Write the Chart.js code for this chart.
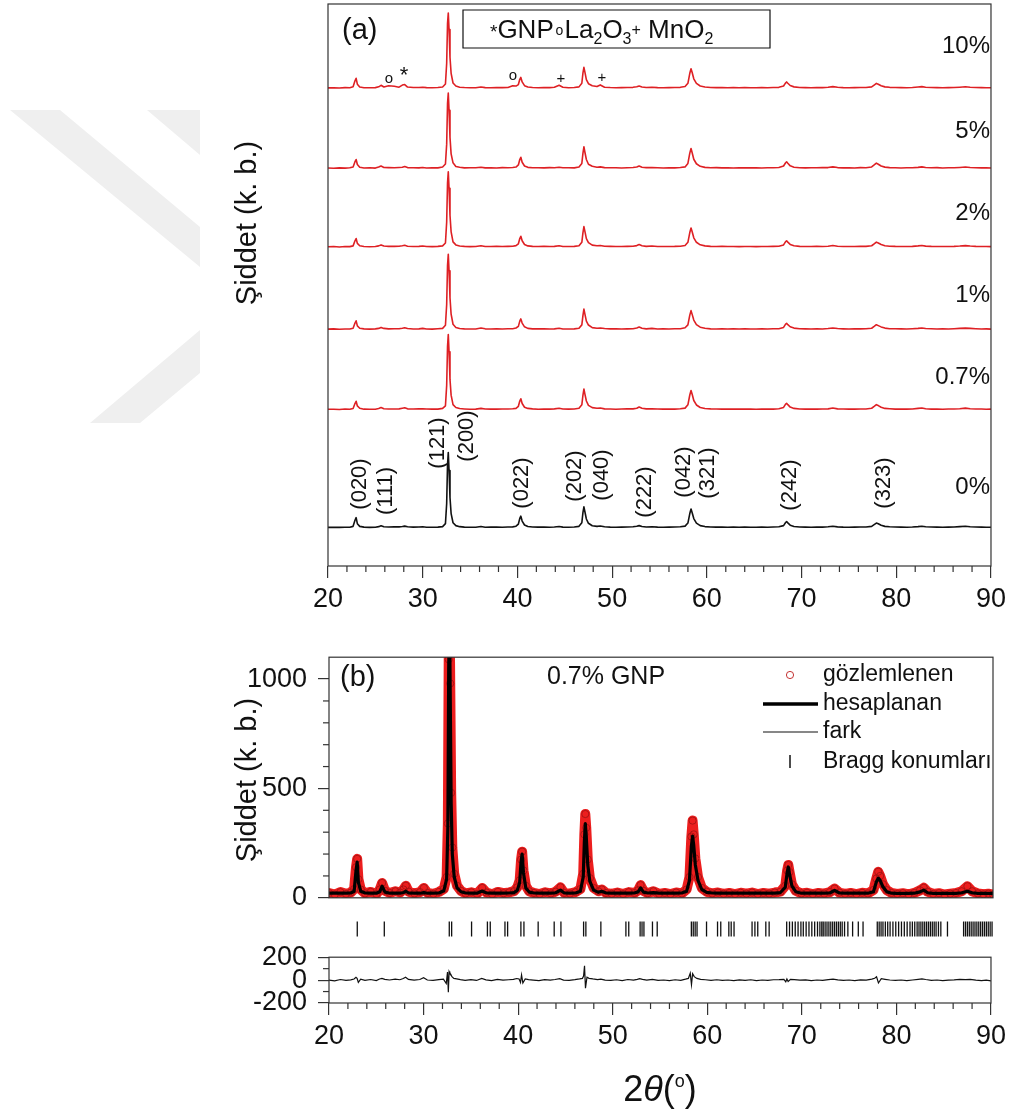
<!DOCTYPE html>
<html>
<head>
<meta charset="utf-8">
<script src="https://cdn.jsdelivr.net/npm/chart.js@4.4.1/dist/chart.umd.min.js"></script>
<style>
  html, body { margin: 0; padding: 0; background: #fff; }
  #page { position: relative; width: 1011px; height: 1114px; overflow: hidden; }
  canvas { position: absolute; left: 0; }
</style>
</head>
<body>
<div id="page">
  <canvas id="chartA" width="1011" height="620" style="top:0;width:1011px;height:620px"></canvas>
  <canvas id="chartB" width="1011" height="295" style="top:630px;width:1011px;height:295px"></canvas>
  <canvas id="chartC" width="1011" height="34" style="top:912px;width:1011px;height:34px"></canvas>
  <canvas id="chartD" width="1011" height="184" style="top:930px;width:1011px;height:184px"></canvas>
</div>
<script>
// 2theta grid shared by every pattern
const twoTheta = [
  20, 20.6, 21.2, 21.8, 22.3, 22.65, 22.85, 22.97, 23.1, 23.35, 23.8, 24.4, 25.0,
  25.35, 25.6, 25.9, 26.4, 27.0, 27.5, 27.85, 28.1, 28.4, 29.0, 29.6, 30.0,
  30.4, 31.0, 31.6, 32.1, 32.4, 32.53, 32.62, 32.7, 32.78, 32.88, 33.0, 33.2, 33.5, 33.9, 34.4, 35.0,
  35.6, 36.15, 36.6, 37.2, 37.8, 38.4, 39.0, 39.5, 39.85,
  40.1, 40.25, 40.36, 40.5, 40.75, 41.1, 41.6, 42.2, 42.8, 43.4, 43.9, 44.4, 44.8,
  45.4, 46.0, 46.5, 46.8, 46.92, 47.02, 47.12, 47.28, 47.5, 47.9, 48.4, 48.75, 49.2, 49.8,
  50.4, 51.0, 51.6, 52.2, 52.6, 52.85, 53.15, 53.6, 54.2, 54.8,
  55.4, 56.0, 56.6, 57.2, 57.7, 58.0, 58.2, 58.33, 58.45, 58.62, 58.9, 59.3, 59.8,
  60.4, 61.0, 61.6, 62.2, 62.8, 63.4, 64.0, 64.6,
  65.2, 65.8, 66.4, 67.0, 67.6, 68.1, 68.3, 68.42, 68.55, 68.8, 69.2, 69.8,
  70.4, 71.0, 71.6, 72.2, 72.8, 73.3, 73.8, 74.4,
  75.0, 75.6, 76.2, 76.8, 77.4, 77.7, 77.9, 78.1, 78.4, 78.8, 79.3, 79.9,
  80.5, 81.1, 81.7, 82.3, 82.7, 83.1, 83.7, 84.3, 84.9,
  85.5, 86.1, 86.7, 87.3, 87.8, 88.4, 89.0, 89.5, 90.0
];

// panel (a): relative intensity above baseline (main peak = 1000)
const i10 = [
  1, 3, 0, 4, 2, 15, 95, 128, 50, 13, 3, 2, 4,
  15, 35, 12, 28, 22, 10, 38, 45, 12, 5, 6, 10,
  4, 3, 5, 12, 52, 330, 860, 1000, 780, 410, 195, 66, 25, 10, 5, 3,
  3, 12, 4, 3, 5, 4, 6, 30, 25,
  45, 115, 140, 80, 30, 12, 6, 3, 5, 4, 8, 35, 8,
  3, 6, 14, 62, 200, 275, 215, 112, 56, 30, 18, 40, 10, 5,
  3, 4, 6, 8, 15, 26, 13, 6, 9, 4,
  3, 4, 5, 8, 18, 62, 195, 255, 205, 122, 60, 26, 12,
  6, 4, 5, 3, 4, 2, 4, 3,
  2, 4, 3, 5, 8, 25, 64, 80, 62, 32, 14, 6,
  4, 3, 5, 4, 8, 17, 8, 4,
  3, 4, 5, 6, 14, 42, 60, 50, 30, 14, 8, 5,
  4, 3, 6, 12, 17, 9, 5, 4, 3,
  4, 6, 10, 15, 10, 6, 4, 3, 2
];
const i5 = [
  2, -1, 3, 0, 4, 15, 85, 115, 48, 12, 2, 4, 0,
  14, 28, 9, 6, 4, 9, 12, 22, 7, 5, 3, 9,
  2, 5, 3, 14, 55, 320, 860, 1000, 770, 410, 190, 70, 22, 12, 3, 5,
  5, 12, 3, 4, 2, 6, 5, 9, 14,
  42, 115, 145, 78, 28, 10, 4, 5, 3, 6, 4, 12, 5,
  4, 3, 15, 62, 200, 285, 215, 115, 52, 24, 12, 16, 6, 4,
  5, 2, 5, 9, 14, 28, 12, 7, 9, 5,
  2, 5, 3, 9, 16, 62, 200, 262, 205, 118, 58, 24, 10,
  4, 6, 3, 5, 2, 4, 3, 5,
  3, 2, 5, 4, 9, 28, 68, 84, 64, 30, 12, 5,
  3, 5, 4, 6, 7, 16, 7, 3,
  4, 2, 6, 5, 15, 45, 66, 52, 28, 13, 6, 4,
  2, 5, 4, 10, 16, 8, 4, 6, 2,
  5, 4, 9, 14, 9, 5, 3, 4, 2
];
const i2 = [
  0, 3, -2, 4, 2, 12, 80, 110, 45, 14, 4, 0, 3,
  12, 25, 10, 5, 6, 8, 14, 20, 8, 4, 6, 10,
  4, 2, 5, 12, 50, 330, 850, 1000, 780, 420, 200, 65, 25, 10, 5, 2,
  3, 14, 4, 3, 5, 4, 6, 8, 15,
  40, 110, 140, 80, 30, 12, 6, 3, 5, 3, 6, 14, 4,
  3, 6, 14, 60, 190, 270, 210, 110, 55, 22, 14, 18, 8, 5,
  3, 4, 6, 8, 16, 30, 14, 6, 10, 4,
  3, 4, 5, 8, 18, 60, 190, 250, 200, 120, 60, 26, 12,
  6, 4, 5, 3, 4, 2, 4, 3,
  2, 4, 3, 5, 8, 25, 65, 80, 62, 32, 14, 6,
  4, 3, 5, 4, 8, 18, 8, 4,
  3, 4, 5, 6, 14, 42, 62, 50, 30, 14, 8, 5,
  4, 3, 6, 12, 18, 9, 5, 4, 3,
  4, 6, 10, 16, 10, 6, 4, 3, 2
];
const i1 = [
  1, 4, 0, 3, 3, 14, 82, 112, 44, 13, 5, 1, 4,
  11, 24, 11, 4, 7, 6, 13, 19, 9, 3, 5, 11,
  3, 1, 6, 11, 52, 330, 850, 1000, 780, 420, 200, 66, 24, 9, 4, 3,
  2, 15, 5, 2, 6, 3, 7, 7, 16,
  38, 108, 138, 82, 32, 11, 5, 4, 6, 2, 5, 13, 3,
  2, 5, 13, 58, 185, 268, 205, 108, 56, 21, 13, 17, 9, 4,
  4, 3, 5, 7, 17, 29, 13, 5, 11, 3,
  4, 3, 6, 7, 19, 58, 188, 248, 198, 122, 62, 27, 13,
  5, 3, 6, 2, 5, 3, 5, 2,
  3, 5, 2, 6, 7, 24, 64, 79, 60, 33, 15, 7,
  5, 2, 6, 3, 9, 17, 9, 5,
  2, 5, 4, 7, 13, 40, 60, 48, 31, 15, 7, 6,
  5, 2, 7, 11, 17, 10, 6, 3, 4,
  3, 7, 11, 15, 11, 7, 3, 4, 1
];
const i07 = [
  2, 2, -1, 5, 1, 13, 78, 108, 46, 15, 3, 2, 2,
  13, 26, 9, 6, 5, 7, 15, 21, 7, 5, 7, 9,
  5, 3, 4, 13, 48, 320, 840, 1000, 770, 400, 190, 64, 26, 11, 6, 1,
  4, 13, 5, 3, 4, 5, 5, 9, 14,
  41, 112, 142, 79, 29, 13, 7, 2, 4, 4, 7, 15, 5,
  4, 5, 15, 61, 192, 272, 208, 112, 54, 23, 15, 19, 7, 6,
  2, 5, 7, 7, 15, 31, 15, 7, 9, 5,
  3, 5, 4, 9, 17, 61, 192, 252, 202, 119, 59, 25, 11,
  7, 5, 4, 4, 3, 3, 3, 4,
  1, 3, 4, 4, 9, 26, 66, 81, 63, 31, 13, 5,
  3, 4, 4, 5, 7, 19, 7, 5,
  4, 3, 6, 5, 15, 43, 63, 51, 29, 13, 9, 4,
  3, 4, 5, 13, 19, 8, 4, 5, 2,
  5, 5, 9, 17, 9, 5, 5, 2, 3
];
const i0 = [
  0, 2, 1, 3, 3, 14, 95, 130, 50, 14, 4, 1, 3,
  10, 22, 9, 6, 8, 7, 12, 17, 8, 4, 6, 9,
  3, 2, 4, 11, 50, 320, 840, 1000, 760, 400, 185, 62, 24, 10, 4, 3,
  3, 12, 3, 4, 5, 3, 6, 7, 16,
  45, 120, 150, 85, 32, 12, 6, 4, 5, 3, 5, 12, 4,
  3, 5, 14, 62, 200, 275, 212, 112, 55, 22, 14, 18, 8, 4,
  3, 4, 5, 8, 15, 24, 13, 6, 9, 4,
  3, 4, 5, 8, 17, 58, 185, 245, 195, 118, 58, 24, 11,
  5, 4, 5, 3, 4, 2, 4, 3,
  2, 4, 3, 5, 8, 24, 62, 78, 60, 30, 13, 6,
  4, 3, 5, 4, 8, 15, 7, 4,
  3, 4, 5, 6, 14, 40, 58, 48, 28, 14, 8, 5,
  4, 3, 6, 11, 16, 8, 5, 4, 3,
  4, 6, 10, 15, 9, 6, 4, 3, 2
];
const sampleNames = ['10%', '5%', '2%', '1%', '0.7%', '0%'];
const stackOffsets = [6380, 5310, 4260, 3160, 2090, 515];

// panel (b): 0.7% GNP refinement, counts
const observed = [
  22, 15, 26, 18, 24, 40, 140, 178, 85, 38, 20, 27, 17,
  38, 68, 32, 22, 30, 24, 38, 55, 28, 20, 26, 45,
  22, 18, 27, 40, 95, 340, 1090, 1380, 980, 480, 230, 110, 55, 32, 20, 25,
  18, 45, 24, 16, 27, 21, 25, 30, 48,
  80, 175, 211, 125, 55, 30, 22, 17, 25, 20, 28, 48, 22,
  19, 26, 40, 110, 290, 383, 320, 175, 90, 45, 30, 38, 22, 18,
  24, 17, 26, 22, 35, 58, 32, 21, 30, 18,
  22, 17, 24, 20, 38, 95, 280, 353, 290, 180, 95, 45, 28,
  20, 24, 18, 22, 17, 23, 19, 24,
  17, 22, 19, 24, 28, 55, 125, 150, 118, 62, 32, 20,
  23, 17, 22, 19, 26, 42, 24, 18,
  22, 17, 23, 20, 36, 88, 119, 100, 62, 35, 22, 18,
  21, 16, 22, 34, 46, 28, 18, 21, 15,
  19, 22, 30, 53, 30, 20, 16, 19, 14
];
const calculated = [
  21, 21, 21, 21, 22, 30, 125, 163, 70, 30, 22, 21, 21,
  28, 53, 26, 21, 21, 21, 24, 30, 22, 21, 21, 24,
  21, 21, 22, 32, 85, 320, 1050, 1300, 920, 430, 200, 95, 45, 28, 22, 21,
  21, 31, 22, 21, 21, 21, 22, 24, 34,
  70, 165, 200, 115, 45, 26, 22, 21, 21, 21, 23, 35, 22,
  21, 22, 30, 95, 255, 339, 280, 150, 75, 35, 25, 30, 22, 21,
  21, 21, 21, 22, 28, 45, 26, 22, 24, 21,
  21, 21, 21, 22, 30, 80, 235, 282, 240, 150, 80, 38, 25,
  22, 21, 21, 21, 21, 21, 21, 21,
  21, 21, 21, 21, 24, 48, 115, 141, 108, 55, 28, 21,
  21, 21, 21, 21, 22, 34, 22, 21,
  21, 21, 21, 21, 28, 72, 90, 80, 50, 28, 21, 20,
  20, 20, 21, 27, 35, 23, 20, 20, 20,
  20, 20, 23, 30, 23, 20, 20, 20, 20
];
const difference = [
  0, -6, 5, -3, 2, 10, 25, 15, -20, 8, -2, 5, -4,
  10, 15, 6, 1, 9, 3, 14, 25, 6, -1, 5, 21,
  1, -3, 4, 8, -30, 70, -105, 75, 60, 50, 30, 15, 10, 4, -2, 4,
  -3, 14, 2, -5, 6, 0, 3, 6, 14,
  10, -20, 45, -25, 10, 4, 0, -4, 4, -1, 5, 13, 0,
  -2, 4, 10, 15, 35, 125, -70, 25, 15, 10, 5, 8, 0, -3,
  3, -4, 5, 0, 7, 13, 6, -1, 6, -3,
  1, -4, 3, -2, 8, 15, 60, -40, 55, 30, 15, 7, 3,
  -2, 3, -3, 1, -4, 2, -2, 3,
  -4, 1, -2, 3, 4, 7, -15, 10, -12, 7, 4, -1,
  2, -4, 1, -2, 4, 8, 2, -3,
  1, -4, 2, -1, 8, 16, 29, -25, 12, 7, 1, -2,
  1, -4, 1, 7, 11, 5, -2, 1, -5,
  -1, 2, 7, 5, 7, 0, -4, -1, -6
];
const braggPositions = [
  22.98, 25.83, 32.68, 32.93, 35.03, 36.7, 37.0, 38.55, 38.83, 40.23, 40.55, 42.05, 43.74, 44.45,
  46.84, 47.08, 48.66, 51.3, 51.6, 52.8, 53.0, 53.2, 54.1, 54.6, 58.2, 58.4, 58.6, 58.8, 59.8,
  60.96, 61.3, 62.15, 62.4, 62.7, 64.6, 64.9, 65.2, 66.05, 66.4,
  68.25, 68.55, 68.85, 69.15, 69.45, 69.75, 70.0, 70.3, 70.6, 70.9, 71.2, 71.5, 71.75, 71.95,
  72.1, 72.3, 72.5, 72.7, 72.9, 73.1, 73.3, 73.5, 73.7, 73.9, 74.1, 74.35, 74.7, 75.2, 75.8, 76.3,
  77.8, 78.0, 78.2, 78.4, 78.65, 78.9, 79.15, 79.45, 79.75, 80.05, 80.35, 80.65, 80.95, 81.25,
  81.5, 81.75, 82.0, 82.2, 82.4, 82.6, 82.8, 83.0, 83.2, 83.4, 83.6, 83.8, 84.0, 84.25, 84.5, 85.2,
  86.9, 87.1, 87.3, 87.5, 87.7, 87.9, 88.1, 88.3, 88.5, 88.7, 88.9, 89.1, 89.3, 89.5, 89.7, 89.9
];

const xTicks = [20, 30, 40, 50, 60, 70, 80, 90];
const xMinor = [22, 24, 26, 28, 32, 34, 36, 38, 42, 44, 46, 48, 52, 54, 56, 58, 62, 64, 66, 68, 72, 74, 76, 78, 82, 84, 86, 88];
const yTicksB = [0, 500, 1000];
const yMinorB = [100, 200, 300, 400, 600, 700, 800, 900];
const yTicksD = [-200, 0, 200];
const yMinorD = [-100, 100];

const hklLabels = [
  ['(020)', 360, 484], ['(111)', 386, 491], ['(121)', 438, 443], ['(200)', 467, 436],
  ['(022)', 522, 483], ['(202)', 575, 476], ['(040)', 602, 475], ['(222)', 645, 492],
  ['(042)', 684, 472], ['(321)', 708, 473], ['(242)', 790, 485], ['(323)', 884, 483]
];
const sampleLabelY = [46, 131, 213, 295, 377, 487];

const FONT = '"Liberation Sans", Arial, Helvetica, sans-serif';
Chart.defaults.font.family = FONT;
Chart.defaults.color = '#111';

function fontOf(size, style) { return ((style || '') + ' ' + size + 'px ' + FONT).trim(); }

function drawText(ctx, t, top) {
  ctx.save();
  ctx.translate(t.x, t.y - top);
  if (t.rot) ctx.rotate(-Math.PI / 2);
  ctx.fillStyle = '#111';
  ctx.textBaseline = t.base || 'middle';
  ctx.textAlign = 'left';
  const runs = t.runs || [{ t: t.text, size: t.size, style: t.style }];
  let w = 0;
  runs.forEach(r => { ctx.font = fontOf(r.size, r.style); w += ctx.measureText(r.t).width; });
  let x = t.align === 'center' ? -w / 2 : t.align === 'right' ? -w : 0;
  runs.forEach(r => { ctx.font = fontOf(r.size, r.style); ctx.fillText(r.t, x, r.dy || 0); x += ctx.measureText(r.t).width; });
  ctx.restore();
}

const decor = {
  id: 'decor',
  beforeDraw(chart, args, o) {
    const ctx = chart.ctx, top = o.top || 0;
    (o.shapes || []).forEach(pts => {
      ctx.save(); ctx.fillStyle = '#efefef'; ctx.beginPath();
      pts.forEach(([x, y], i) => i ? ctx.lineTo(x, y - top) : ctx.moveTo(x, y - top));
      ctx.closePath(); ctx.fill(); ctx.restore();
    });
  },
  afterDraw(chart, args, o) {
    const { ctx, chartArea: a, scales } = chart, top = o.top || 0;
    ctx.save();
    ctx.strokeStyle = '#333'; ctx.lineWidth = 1.2;
    if (o.frame) ctx.strokeRect(a.left, a.top, a.right - a.left, a.bottom - a.top);
    (o.minorX || []).forEach(v => {
      const x = scales.x.getPixelForValue(v);
      ctx.beginPath(); ctx.moveTo(x, a.bottom); ctx.lineTo(x, a.bottom + 6); ctx.stroke();
    });
    (o.minorY || []).forEach(v => {
      const y = scales.y.getPixelForValue(v);
      ctx.beginPath(); ctx.moveTo(a.left, y); ctx.lineTo(a.left - 6, y); ctx.stroke();
    });
    (o.marks || []).forEach(m => {
      ctx.save();
      ctx.strokeStyle = m.color || '#111'; ctx.lineWidth = m.w || 1.2;
      ctx.beginPath();
      if (m.kind === 'circle') ctx.arc(m.x, m.y - top, m.r, 0, Math.PI * 2);
      else if (m.kind === 'rect') ctx.rect(m.x, m.y - top, m.width, m.height);
      else { ctx.moveTo(m.x1, m.y1 - top); ctx.lineTo(m.x2, m.y2 - top); }
      ctx.stroke(); ctx.restore();
    });
    (o.texts || []).forEach(t => drawText(ctx, t, top));
    ctx.restore();
  }
};

const tickFont = { size: 27 };
const axisGrid = len => ({ drawOnChartArea: false, tickLength: len, color: '#333', lineWidth: 1.2 });
const pts = (vals, off) => twoTheta.map((x, i) => ({ x, y: vals[i] + (off || 0) }));
const base = { responsive: false, animation: false, devicePixelRatio: 1, events: [] };

// ---- panel (a)
const patterns = [i10, i5, i2, i1, i07, i0];
new Chart(document.getElementById('chartA'), {
  type: 'scatter',
  data: {
    datasets: patterns.map((p, k) => ({
      label: sampleNames[k], data: pts(p, stackOffsets[k]), showLine: true, pointRadius: 0,
      borderColor: k === 5 ? '#111' : 'rgb(222,32,36)', borderWidth: 1.6, borderJoinStyle: 'round'
    }))
  },
  options: {
    ...base,
    layout: { padding: { left: 328, top: 4, right: 18, bottom: 0 } },
    plugins: {
      legend: { display: false }, tooltip: { enabled: false },
      decor: {
        frame: true, minorX: xMinor,
        shapes: [
          [[10, 110], [60, 110], [200, 227], [200, 267]],
          [[147, 110], [200, 110], [200, 155]],
          [[200, 330], [200, 373], [140, 423], [90, 423]]
        ],
        marks: [{ kind: 'rect', x: 463, y: 10, width: 307, height: 38, w: 1.2 }],
        texts: [
          { text: '(a)', x: 342, y: 31, size: 29 },
          { text: 'Şiddet (k. b.)', x: 248, y: 223, size: 29, rot: true, align: 'center' },
          { x: 490, y: 38, base: 'alphabetic', runs: [
            { t: '*', size: 19 }, { t: 'GNP', size: 26 }, { t: ' ', size: 6 }, { t: 'o', size: 14, dy: -3 },
            { t: ' ', size: 5 }, { t: 'La', size: 26 }, { t: '2', size: 16, dy: 6 }, { t: 'O', size: 26 },
            { t: '3', size: 16, dy: 6 }, { t: '+', size: 16, dy: -3 }, { t: ' MnO', size: 26 }, { t: '2', size: 16, dy: 6 }
          ] },
          { text: 'o', x: 389, y: 79, size: 15, align: 'center' },
          { text: '*', x: 404, y: 76, size: 22, align: 'center' },
          { text: 'o', x: 513, y: 76, size: 15, align: 'center' },
          { text: '+', x: 561, y: 79, size: 15, align: 'center' },
          { text: '+', x: 602, y: 78, size: 15, align: 'center' },
          ...sampleNames.map((s, k) => ({ text: s, x: 990, y: sampleLabelY[k], size: 24, align: 'right' })),
          ...hklLabels.map(([s, x, y]) => ({ text: s, x, y, size: 22, rot: true, align: 'center' }))
        ]
      }
    },
    scales: {
      x: {
        type: 'linear', min: 20, max: 90,
        afterBuildTicks: s => { s.ticks = xTicks.map(v => ({ value: v })); },
        afterFit: s => { s.height = 54; },
        ticks: { callback: v => String(v), font: tickFont, color: '#111', padding: 5, maxRotation: 0, autoSkip: false },
        grid: axisGrid(12), border: { display: false }
      },
      y: { display: false, min: 0, max: 7500 }
    }
  },
  plugins: [decor]
});

// ---- panel (b) main
new Chart(document.getElementById('chartB'), {
  type: 'scatter',
  data: {
    datasets: [
      { label: 'hesaplanan', data: pts(calculated), showLine: true, pointRadius: 0, borderColor: '#000', borderWidth: 3.2, borderJoinStyle: 'round', order: 1 },
      { label: 'gözlemlenen', data: pts(observed), showLine: false, pointRadius: 3.6, borderWidth: 1, borderColor: 'rgba(165,20,20,0.9)', backgroundColor: 'rgba(0,0,0,0)', order: 2 },
      { label: 'gözlemlenen-band', data: pts(observed), showLine: true, pointRadius: 0, borderColor: 'rgb(236,30,30)', borderWidth: 10, borderJoinStyle: 'round', borderCapStyle: 'round', order: 3 }
    ]
  },
  options: {
    ...base,
    layout: { padding: { left: 0, top: 22, right: 18, bottom: 23 } },
    plugins: {
      legend: { display: false }, tooltip: { enabled: false },
      decor: {
        top: 630, frame: true, minorY: yMinorB,
        marks: [
          { kind: 'circle', x: 790, y: 675, r: 3.6, w: 1, color: 'rgba(190,30,30,0.9)' },
          { kind: 'line', x1: 763, y1: 704, x2: 818, y2: 704, w: 3.5, color: '#000' },
          { kind: 'line', x1: 763, y1: 732, x2: 818, y2: 732, w: 1.1, color: '#111' },
          { kind: 'line', x1: 790, y1: 755, x2: 790, y2: 768, w: 1.5, color: '#111' }
        ],
        texts: [
          { text: '(b)', x: 340, y: 678, size: 29 },
          { text: '0.7% GNP', x: 547, y: 677, size: 25 },
          { text: 'gözlemlenen', x: 823, y: 675, size: 23 },
          { text: 'hesaplanan', x: 823, y: 704, size: 23 },
          { text: 'fark', x: 823, y: 732, size: 23 },
          { text: 'Bragg konumları', x: 823, y: 762, size: 23 },
          { text: 'Şiddet (k. b.)', x: 248, y: 780, size: 29, rot: true, align: 'center' }
        ]
      }
    },
    scales: {
      x: { type: 'linear', display: false, min: 20, max: 90 },
      y: {
        min: 0, max: 1100,
        afterBuildTicks: s => { s.ticks = yTicksB.map(v => ({ value: v })); },
        afterFit: s => { s.width = 329; },
        ticks: { callback: v => String(v), font: tickFont, color: '#111', padding: 11, autoSkip: false },
        grid: axisGrid(11), border: { display: false }
      }
    }
  },
  plugins: [decor]
});

// ---- Bragg positions
new Chart(document.getElementById('chartC'), {
  type: 'scatter',
  data: { datasets: [{ label: 'Bragg konumları', data: braggPositions.map(x => ({ x, y: 0 })), pointStyle: 'line', rotation: 90, pointRadius: 7.5, borderWidth: 1.3, borderColor: '#111' }] },
  options: {
    ...base,
    layout: { padding: { left: 329, top: 0, right: 18, bottom: 0 } },
    plugins: { legend: { display: false }, tooltip: { enabled: false } },
    scales: {
      x: { type: 'linear', display: false, min: 20, max: 90 },
      y: { display: false, min: -1, max: 1 }
    }
  }
});

// ---- difference panel
new Chart(document.getElementById('chartD'), {
  type: 'scatter',
  data: { datasets: [{ label: 'fark', data: pts(difference), showLine: true, pointRadius: 0, borderColor: '#111', borderWidth: 1.2 }] },
  options: {
    ...base,
    layout: { padding: { left: 0, top: 23, right: 18, bottom: 0 } },
    plugins: {
      legend: { display: false }, tooltip: { enabled: false },
      decor: {
        top: 930, frame: true, minorX: xMinor, minorY: yMinorD,
        texts: [
          { x: 660, y: 1091, align: 'center', runs: [
            { t: '2', size: 36 }, { t: 'θ', size: 36, style: 'italic' }, { t: '(', size: 36 },
            { t: 'o', size: 18, dy: -9 }, { t: ')', size: 36 }
          ] }
        ]
      }
    },
    scales: {
      x: {
        type: 'linear', min: 20, max: 90,
        afterBuildTicks: s => { s.ticks = xTicks.map(v => ({ value: v })); },
        afterFit: s => { s.height = 111; },
        ticks: { callback: v => String(v), font: tickFont, color: '#111', padding: 5, maxRotation: 0, autoSkip: false },
        grid: axisGrid(12), border: { display: false }
      },
      y: {
        min: -200, max: 200,
        afterBuildTicks: s => { s.ticks = yTicksD.map(v => ({ value: v })); },
        afterFit: s => { s.width = 329; },
        ticks: { callback: v => String(v), font: tickFont, color: '#111', padding: 11, autoSkip: false },
        grid: axisGrid(11), border: { display: false }
      }
    }
  },
  plugins: [decor]
});
</script>
</body>
</html>
